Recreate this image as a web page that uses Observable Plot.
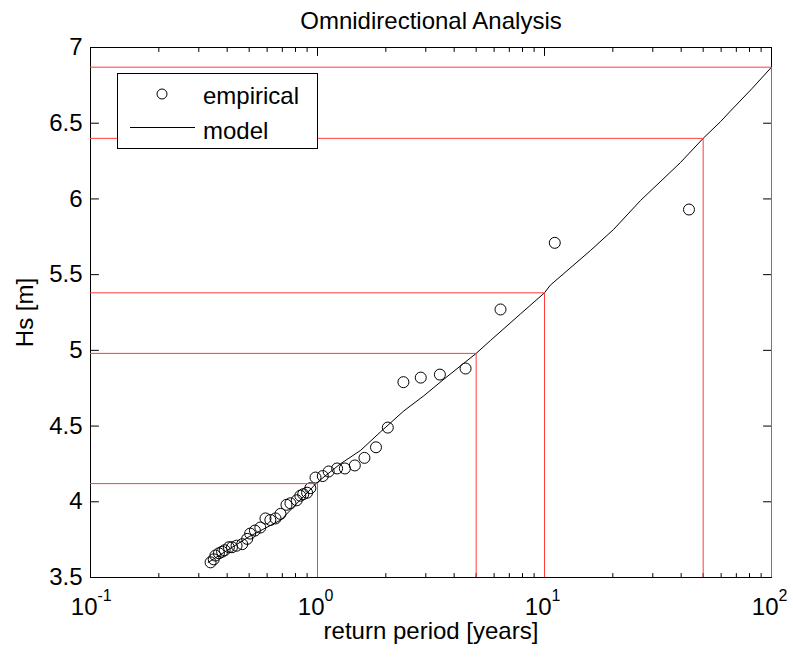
<!DOCTYPE html>
<html><head><meta charset="utf-8">
<script src="https://cdn.jsdelivr.net/npm/d3@7"></script>
<script src="https://cdn.jsdelivr.net/npm/@observablehq/plot@0.6"></script>
<style>
html,body{margin:0;padding:0;background:#fff}
svg{font-family:"Liberation Sans",Arial,sans-serif}
</style>
</head><body><div id="chart"></div>
<script>
// ---- data ----
const empiricalT  = [0.338,0.349,0.355,0.368,0.38,0.39,0.407,0.42,0.44,0.466,0.49,0.505,0.53,0.56,0.59,0.62,0.653,0.687,0.73,0.76,0.81,0.84,0.865,0.90,0.93,0.98,1.055,1.12,1.22,1.32,1.46,1.61,1.81,2.04,2.39,2.85,3.46,4.49,6.40,11.1,43.3];
const empiricalHs = [3.60,3.62,3.645,3.66,3.67,3.68,3.70,3.70,3.71,3.72,3.755,3.79,3.81,3.83,3.89,3.88,3.89,3.92,3.98,3.99,4.01,4.04,4.05,4.06,4.09,4.16,4.17,4.20,4.22,4.22,4.24,4.29,4.36,4.49,4.79,4.82,4.84,4.88,5.27,5.71,5.93];
const modelT  = [0.33,0.5,0.69,1.0,1.26,1.55,1.89,2.40,2.94,3.54,5,5.78,7.83,10,10.6,15.96,20.2,26.5,39.7,50,59.6,65.9,82.2,100];
const modelHs = [3.60,3.77,3.88,4.13,4.25,4.34,4.46,4.60,4.70,4.80,4.98,5.065,5.24,5.38,5.43,5.66,5.80,5.99,6.24,6.40,6.51,6.58,6.73,6.87];
const returnPeriods = [1,5,10,50,100];
const returnLevels  = [4.12,4.98,5.38,6.40,6.87];
const yTicks = [3.5,4,4.5,5,5.5,6,6.5,7];
const xMajorTicks = [0.1,1,10,100];
const xTickExponents = ["-1","0","1","2"];
const xMinorTicks = [0.2,0.3,0.4,0.5,0.6,0.7,0.8,0.9,2,3,4,5,6,7,8,9,20,30,40,50,60,70,80,90];
const titleText = "Omnidirectional Analysis";
const xLabel = "return period [years]";
const yLabel = "Hs [m]";
const legendLabels = ["empirical","model"];

// ---- tables ----
const empirical = empiricalT.map((t,i)=>({T:t, Hs:empiricalHs[i]}));
const model = modelT.map((t,i)=>({T:t, Hs:modelHs[i]}));
const levels = returnPeriods.map((t,i)=>({T:t, Hs:returnLevels[i]}));
const xTicks = xMajorTicks.map((t,i)=>({T:t, e:xTickExponents[i]}));
const FS = 24;
const RED = "#ff3b3b";
const tickShape = {draw(ctx, l){ ctx.moveTo(0,0); ctx.lineTo(0,-l); }};
const inTick = (data, chan, anchor, len, rot) => Plot.vector(data, {[chan]:d=>d, frameAnchor:anchor, length:len, rotate:rot, anchor:"start", shape:tickShape, stroke:"#000", strokeWidth:1});

const chart = Plot.plot({
  width: 793, height: 659,
  marginLeft: 90, marginRight: 22, marginTop: 47, marginBottom: 82,
  style: {fontFamily:"Liberation Sans, Arial, sans-serif", fontSize: FS+"px", background:"#fff", color:"#000", overflow:"visible"},
  x: {type:"log", domain:[0.1,100], axis:null},
  y: {domain:[3.5,7], axis:null},
  marks: [
    Plot.line(model, {x:"T", y:"Hs", stroke:"#000", strokeWidth:1}),
    Plot.dot(empirical, {x:"T", y:"Hs", r:5.5, stroke:"#000", fill:"none", strokeWidth:1}),
    // y tick labels
    Plot.axisY(yTicks, {anchor:"left", tickSize:0, tickPadding:8, fontSize:FS, label:null, tickFormat:d=>String(d)}),
    // inward ticks
    inTick(yTicks, "y", "left", 8, 90),
    inTick(yTicks, "y", "right", 8, -90),
    inTick(xMajorTicks, "x", "bottom", 8, 0),
    inTick(xMajorTicks, "x", "top", 8, 180),
    inTick(xMinorTicks, "x", "bottom", 4, 0),
    inTick(xMinorTicks, "x", "top", 4, 180),
    // x tick labels 10^k
    Plot.text(xTicks, {x:"T", frameAnchor:"bottom", text:()=>"10", textAnchor:"end", lineAnchor:"bottom", dx:7, dy:37, fontSize:FS, fill:"#000"}),
    Plot.text(xTicks, {x:"T", frameAnchor:"bottom", text:"e", textAnchor:"start", lineAnchor:"bottom", dx:7, dy:23, fontSize:16, fill:"#000"}),
    // titles
    Plot.text([titleText], {frameAnchor:"top", textAnchor:"middle", lineAnchor:"bottom", dy:-19, fontSize:FS, fill:"#000"}),
    Plot.text([xLabel], {frameAnchor:"bottom", textAnchor:"middle", lineAnchor:"bottom", dy:61, fontSize:FS, fill:"#000"}),
    Plot.text([yLabel], {frameAnchor:"left", textAnchor:"middle", lineAnchor:"bottom", rotate:-90, dx:-58, fontSize:FS, fill:"#000"}),
    Plot.frame({stroke:"#000", strokeWidth:1}),
    // return-level guide lines
    Plot.ruleY(levels, {y:"Hs", x1:()=>0.1, x2:"T", stroke:RED, strokeWidth:1}),
    Plot.ruleX(levels, {x:"T", y1:()=>3.5, y2:"Hs", stroke:RED, strokeWidth:1})
  ]
});
document.getElementById("chart").appendChild(chart);

// legend box (MATLAB-style, inside the axes, upper left)
const svg = d3.select(chart);
const lg = svg.append("g").attr("font-size", FS).attr("text-anchor","start").attr("font-family","Liberation Sans, Arial, sans-serif");
lg.append("rect").attr("x",117.5).attr("y",73.5).attr("width",200).attr("height",75).attr("fill","#fff").attr("stroke","#000");
lg.append("circle").attr("cx",162).attr("cy",94).attr("r",5).attr("fill","none").attr("stroke","#000");
lg.append("text").attr("x",203).attr("y",104).attr("fill","#000").text(legendLabels[0]);
lg.append("line").attr("x1",130).attr("x2",195).attr("y1",127.5).attr("y2",127.5).attr("stroke","#000");
lg.append("text").attr("x",203).attr("y",139).attr("fill","#000").text(legendLabels[1]);
</script>
</body></html>
